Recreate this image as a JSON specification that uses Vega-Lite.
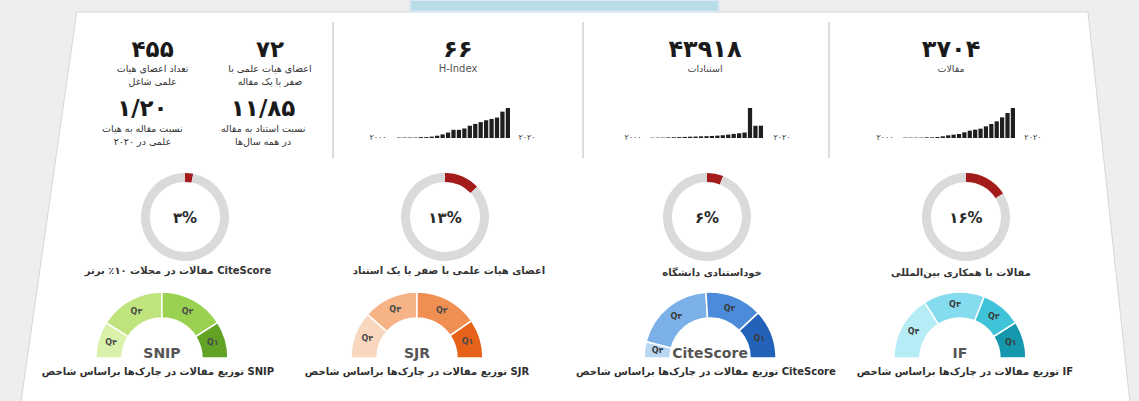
{
 "$schema": "https://vega.github.io/schema/vega-lite/v6.json",
 "width": 1139, "height": 401,
 "autosize": {"type": "none"},
 "padding": 0,
 "background": "#eeeeee",
 "config": {"view": {"stroke": null}, "axis": {"disable": true}, "legend": {"disable": true}, "text": {"font": "DejaVu Sans"}},
 "data": {"values": [{}]},
 "datasets": {
  "stats": [
   {"id": "faculty", "value": "۴۵۵", "label": ["تعداد اعضای هیات", "علمی شاغل"]},
   {"id": "low", "value": "۷۲", "label": ["اعضای هیات علمی با", "صفر یا یک مقاله"]},
   {"id": "ratio_pf", "value": "۱/۲۰", "label": ["نسبت مقاله به هیات", "علمی در ۲۰۲۰"]},
   {"id": "ratio_cp", "value": "۱۱/۸۵", "label": ["نسبت استناد به مقاله", "در همه سال‌ها"]},
   {"id": "hindex", "value": "۶۶", "label": "H-Index"},
   {"id": "cites", "value": "۴۳۹۱۸", "label": "استنادات"},
   {"id": "papers", "value": "۳۷۰۴", "label": "مقالات"}
  ],
  "hindex": [
   {"year": 2000, "value": 1}, {"year": 2001, "value": 1}, {"year": 2002, "value": 1}, {"year": 2003, "value": 1},
   {"year": 2004, "value": 2}, {"year": 2005, "value": 2}, {"year": 2006, "value": 3}, {"year": 2007, "value": 5},
   {"year": 2008, "value": 8}, {"year": 2009, "value": 12}, {"year": 2010, "value": 18}, {"year": 2011, "value": 18},
   {"year": 2012, "value": 21}, {"year": 2013, "value": 27}, {"year": 2014, "value": 31}, {"year": 2015, "value": 35},
   {"year": 2016, "value": 39}, {"year": 2017, "value": 42}, {"year": 2018, "value": 45}, {"year": 2019, "value": 58},
   {"year": 2020, "value": 66}
  ],
  "cites": [
   {"year": 2000, "value": 150}, {"year": 2001, "value": 180}, {"year": 2002, "value": 200}, {"year": 2003, "value": 300},
   {"year": 2004, "value": 350}, {"year": 2005, "value": 450}, {"year": 2006, "value": 520}, {"year": 2007, "value": 640},
   {"year": 2008, "value": 700}, {"year": 2009, "value": 820}, {"year": 2010, "value": 880}, {"year": 2011, "value": 1000},
   {"year": 2012, "value": 1150}, {"year": 2013, "value": 1350}, {"year": 2014, "value": 1650}, {"year": 2015, "value": 2000},
   {"year": 2016, "value": 2300}, {"year": 2017, "value": 2650}, {"year": 2018, "value": 14600}, {"year": 2019, "value": 5950},
   {"year": 2020, "value": 6000}
  ],
  "papers": [
   {"year": 2000, "value": 8}, {"year": 2001, "value": 8}, {"year": 2002, "value": 8}, {"year": 2003, "value": 8},
   {"year": 2004, "value": 15}, {"year": 2005, "value": 15}, {"year": 2006, "value": 22}, {"year": 2007, "value": 38},
   {"year": 2008, "value": 60}, {"year": 2009, "value": 75}, {"year": 2010, "value": 90}, {"year": 2011, "value": 128},
   {"year": 2012, "value": 165}, {"year": 2013, "value": 188}, {"year": 2014, "value": 210}, {"year": 2015, "value": 262},
   {"year": 2016, "value": 315}, {"year": 2017, "value": 375}, {"year": 2018, "value": 465}, {"year": 2019, "value": 562},
   {"year": 2020, "value": 675}
  ],
  "donuts": [
   {"id": "top10", "part": "value", "v": 3}, {"id": "top10", "part": "rest", "v": 97},
   {"id": "low", "part": "value", "v": 13}, {"id": "low", "part": "rest", "v": 87},
   {"id": "self", "part": "value", "v": 6}, {"id": "self", "part": "rest", "v": 94},
   {"id": "intl", "part": "value", "v": 16}, {"id": "intl", "part": "rest", "v": 84}
  ],
  "donutinfo": [
   {"id": "top10", "pct": "۳%", "label": "مقالات در مجلات ۱۰٪ برتر CiteScore"},
   {"id": "low", "pct": "۱۳%", "label": "اعضای هیات علمی با صفر یا یک استناد"},
   {"id": "self", "pct": "۶%", "label": "خوداستنادی دانشگاه"},
   {"id": "intl", "pct": "۱۶%", "label": "مقالات با همکاری بین‌المللی"}
  ],
  "gauges": [
   {"index": "SNIP", "q": "Q۴", "share": 18}, {"index": "SNIP", "q": "Q۳", "share": 32}, {"index": "SNIP", "q": "Q۲", "share": 32}, {"index": "SNIP", "q": "Q۱", "share": 18},
   {"index": "SJR", "q": "Q۴", "share": 23}, {"index": "SJR", "q": "Q۳", "share": 27}, {"index": "SJR", "q": "Q۲", "share": 31}, {"index": "SJR", "q": "Q۱", "share": 19},
   {"index": "CiteScore", "q": "Q۴", "share": 8}, {"index": "CiteScore", "q": "Q۳", "share": 40}, {"index": "CiteScore", "q": "Q۲", "share": 28}, {"index": "CiteScore", "q": "Q۱", "share": 24},
   {"index": "IF", "q": "Q۴", "share": 32}, {"index": "IF", "q": "Q۳", "share": 30}, {"index": "IF", "q": "Q۲", "share": 20}, {"index": "IF", "q": "Q۱", "share": 18}
  ],
  "gaugeinfo": [
   {"index": "SNIP", "label": "توزیع مقالات در چارک‌ها براساس شاخص SNIP"},
   {"index": "SJR", "label": "توزیع مقالات در چارک‌ها براساس شاخص SJR"},
   {"index": "CiteScore", "label": "توزیع مقالات در چارک‌ها براساس شاخص CiteScore"},
   {"index": "IF", "label": "توزیع مقالات در چارک‌ها براساس شاخص IF"}
  ]
 },
 "layer": [
  {"layer": [
   {"mark": {"type": "point", "shape": "M-0.874,-0.358L0.9,-0.358L0.975,0.34L-0.974,0.34Z", "size": 1299600, "filled": true, "color": "#ffffff", "stroke": "#d6d6d6", "strokeWidth": 1, "opacity": 1},
    "encoding": {"x": {"datum": 50.48, "type": "quantitative", "scale": {"domain": [0, 100], "nice": false, "zero": false}}, "y": {"datum": 53.87, "type": "quantitative", "scale": {"domain": [0, 100], "nice": false, "zero": false, "reverse": true}}}},
   {"mark": {"type": "rect", "fill": "#b8dde9", "stroke": "#dde8f1", "strokeWidth": 2},
    "encoding": {"x": {"datum": 36.0, "type": "quantitative", "scale": {"domain": [0, 100], "nice": false, "zero": false}}, "x2": {"datum": 63.13}, "y": {"datum": 0, "type": "quantitative", "scale": {"domain": [0, 100], "nice": false, "zero": false, "reverse": true}}, "y2": {"datum": 2.9}}},
   {"mark": {"type": "rule", "color": "#d2d2d2", "strokeWidth": 1.5},
    "encoding": {"x": {"datum": 29.24, "type": "quantitative", "scale": {"domain": [0, 100], "nice": false, "zero": false}}, "y": {"datum": 5.5, "type": "quantitative", "scale": {"domain": [0, 100], "nice": false, "zero": false, "reverse": true}}, "y2": {"datum": 39.4}}},
   {"mark": {"type": "rule", "color": "#d2d2d2", "strokeWidth": 1.5},
    "encoding": {"x": {"datum": 51.19, "type": "quantitative", "scale": {"domain": [0, 100], "nice": false, "zero": false}}, "y": {"datum": 5.5, "type": "quantitative", "scale": {"domain": [0, 100], "nice": false, "zero": false, "reverse": true}}, "y2": {"datum": 39.4}}},
   {"mark": {"type": "rule", "color": "#d2d2d2", "strokeWidth": 1.5},
    "encoding": {"x": {"datum": 72.78, "type": "quantitative", "scale": {"domain": [0, 100], "nice": false, "zero": false}}, "y": {"datum": 5.5, "type": "quantitative", "scale": {"domain": [0, 100], "nice": false, "zero": false, "reverse": true}}, "y2": {"datum": 39.4}}},

   {"data": {"name": "stats"}, "transform": [{"filter": "datum.id == 'faculty'"}],
    "encoding": {"x": {"datum": 13.4, "type": "quantitative", "scale": {"domain": [0, 100], "nice": false, "zero": false}}},
    "layer": [
     {"mark": {"type": "text", "fontSize": 23, "fontWeight": "bold", "color": "#1a1a1a"}, "encoding": {"y": {"datum": 12.5, "type": "quantitative", "scale": {"domain": [0, 100], "nice": false, "zero": false, "reverse": true}}, "text": {"field": "value"}}},
     {"mark": {"type": "text", "fontSize": 9.5, "baseline": "top", "lineHeight": 13, "color": "#2f2f2f", "dir": "rtl"}, "encoding": {"y": {"datum": 15.9, "type": "quantitative", "scale": {"domain": [0, 100], "nice": false, "zero": false, "reverse": true}}, "text": {"field": "label"}}}
    ]},
   {"data": {"name": "stats"}, "transform": [{"filter": "datum.id == 'low'"}],
    "encoding": {"x": {"datum": 23.7, "type": "quantitative", "scale": {"domain": [0, 100], "nice": false, "zero": false}}},
    "layer": [
     {"mark": {"type": "text", "fontSize": 23, "fontWeight": "bold", "color": "#1a1a1a"}, "encoding": {"y": {"datum": 12.5, "type": "quantitative", "scale": {"domain": [0, 100], "nice": false, "zero": false, "reverse": true}}, "text": {"field": "value"}}},
     {"mark": {"type": "text", "fontSize": 9.5, "baseline": "top", "lineHeight": 13, "color": "#2f2f2f", "dir": "rtl"}, "encoding": {"y": {"datum": 15.9, "type": "quantitative", "scale": {"domain": [0, 100], "nice": false, "zero": false, "reverse": true}}, "text": {"field": "label"}}}
    ]},
   {"data": {"name": "stats"}, "transform": [{"filter": "datum.id == 'ratio_pf'"}],
    "encoding": {"x": {"datum": 12.5, "type": "quantitative", "scale": {"domain": [0, 100], "nice": false, "zero": false}}},
    "layer": [
     {"mark": {"type": "text", "fontSize": 23, "fontWeight": "bold", "color": "#1a1a1a"}, "encoding": {"y": {"datum": 27.2, "type": "quantitative", "scale": {"domain": [0, 100], "nice": false, "zero": false, "reverse": true}}, "text": {"field": "value"}}},
     {"mark": {"type": "text", "fontSize": 9.5, "baseline": "top", "lineHeight": 13, "color": "#2f2f2f", "dir": "rtl"}, "encoding": {"y": {"datum": 31.0, "type": "quantitative", "scale": {"domain": [0, 100], "nice": false, "zero": false, "reverse": true}}, "text": {"field": "label"}}}
    ]},
   {"data": {"name": "stats"}, "transform": [{"filter": "datum.id == 'ratio_cp'"}],
    "encoding": {"x": {"datum": 23.1, "type": "quantitative", "scale": {"domain": [0, 100], "nice": false, "zero": false}}},
    "layer": [
     {"mark": {"type": "text", "fontSize": 23, "fontWeight": "bold", "color": "#1a1a1a"}, "encoding": {"y": {"datum": 27.2, "type": "quantitative", "scale": {"domain": [0, 100], "nice": false, "zero": false, "reverse": true}}, "text": {"field": "value"}}},
     {"mark": {"type": "text", "fontSize": 9.5, "baseline": "top", "lineHeight": 13, "color": "#2f2f2f", "dir": "rtl"}, "encoding": {"y": {"datum": 31.0, "type": "quantitative", "scale": {"domain": [0, 100], "nice": false, "zero": false, "reverse": true}}, "text": {"field": "label"}}}
    ]},
   {"data": {"name": "stats"}, "transform": [{"filter": "datum.id == 'hindex'"}],
    "encoding": {"x": {"datum": 40.21, "type": "quantitative", "scale": {"domain": [0, 100], "nice": false, "zero": false}}},
    "layer": [
     {"mark": {"type": "text", "fontSize": 24, "fontWeight": "bold", "color": "#1a1a1a"}, "encoding": {"y": {"datum": 12.5, "type": "quantitative", "scale": {"domain": [0, 100], "nice": false, "zero": false, "reverse": true}}, "text": {"field": "value"}}},
     {"mark": {"type": "text", "fontSize": 10, "baseline": "top", "color": "#555555"}, "encoding": {"y": {"datum": 15.9, "type": "quantitative", "scale": {"domain": [0, 100], "nice": false, "zero": false, "reverse": true}}, "text": {"field": "label"}}}
    ]},
   {"data": {"name": "stats"}, "transform": [{"filter": "datum.id == 'cites'"}],
    "encoding": {"x": {"datum": 61.9, "type": "quantitative", "scale": {"domain": [0, 100], "nice": false, "zero": false}}},
    "layer": [
     {"mark": {"type": "text", "fontSize": 24, "fontWeight": "bold", "color": "#1a1a1a"}, "encoding": {"y": {"datum": 12.5, "type": "quantitative", "scale": {"domain": [0, 100], "nice": false, "zero": false, "reverse": true}}, "text": {"field": "value"}}},
     {"mark": {"type": "text", "fontSize": 9.5, "baseline": "top", "color": "#444444", "dir": "rtl"}, "encoding": {"y": {"datum": 15.9, "type": "quantitative", "scale": {"domain": [0, 100], "nice": false, "zero": false, "reverse": true}}, "text": {"field": "label"}}}
    ]},
   {"data": {"name": "stats"}, "transform": [{"filter": "datum.id == 'papers'"}],
    "encoding": {"x": {"datum": 83.5, "type": "quantitative", "scale": {"domain": [0, 100], "nice": false, "zero": false}}},
    "layer": [
     {"mark": {"type": "text", "fontSize": 24, "fontWeight": "bold", "color": "#1a1a1a"}, "encoding": {"y": {"datum": 12.5, "type": "quantitative", "scale": {"domain": [0, 100], "nice": false, "zero": false, "reverse": true}}, "text": {"field": "value"}}},
     {"mark": {"type": "text", "fontSize": 9.5, "baseline": "top", "color": "#444444", "dir": "rtl"}, "encoding": {"y": {"datum": 15.9, "type": "quantitative", "scale": {"domain": [0, 100], "nice": false, "zero": false, "reverse": true}}, "text": {"field": "label"}}}
    ]},

   {"mark": {"type": "text", "fontSize": 8, "color": "#333333"}, "encoding": {"x": {"datum": 33.19, "type": "quantitative", "scale": {"domain": [0, 100], "nice": false, "zero": false}}, "y": {"datum": 34.41, "type": "quantitative", "scale": {"domain": [0, 100], "nice": false, "zero": false, "reverse": true}}, "text": {"value": "۲۰۰۰"}}},
   {"mark": {"type": "text", "fontSize": 8, "color": "#333333"}, "encoding": {"x": {"datum": 46.27, "type": "quantitative", "scale": {"domain": [0, 100], "nice": false, "zero": false}}, "y": {"datum": 34.41, "type": "quantitative", "scale": {"domain": [0, 100], "nice": false, "zero": false, "reverse": true}}, "text": {"value": "۲۰۲۰"}}},
   {"mark": {"type": "text", "fontSize": 8, "color": "#333333"}, "encoding": {"x": {"datum": 55.58, "type": "quantitative", "scale": {"domain": [0, 100], "nice": false, "zero": false}}, "y": {"datum": 34.41, "type": "quantitative", "scale": {"domain": [0, 100], "nice": false, "zero": false, "reverse": true}}, "text": {"value": "۲۰۰۰"}}},
   {"mark": {"type": "text", "fontSize": 8, "color": "#333333"}, "encoding": {"x": {"datum": 68.66, "type": "quantitative", "scale": {"domain": [0, 100], "nice": false, "zero": false}}, "y": {"datum": 34.41, "type": "quantitative", "scale": {"domain": [0, 100], "nice": false, "zero": false, "reverse": true}}, "text": {"value": "۲۰۲۰"}}},
   {"mark": {"type": "text", "fontSize": 8, "color": "#333333"}, "encoding": {"x": {"datum": 77.7, "type": "quantitative", "scale": {"domain": [0, 100], "nice": false, "zero": false}}, "y": {"datum": 34.41, "type": "quantitative", "scale": {"domain": [0, 100], "nice": false, "zero": false, "reverse": true}}, "text": {"value": "۲۰۰۰"}}},
   {"mark": {"type": "text", "fontSize": 8, "color": "#333333"}, "encoding": {"x": {"datum": 90.69, "type": "quantitative", "scale": {"domain": [0, 100], "nice": false, "zero": false}}, "y": {"datum": 34.41, "type": "quantitative", "scale": {"domain": [0, 100], "nice": false, "zero": false, "reverse": true}}, "text": {"value": "۲۰۲۰"}}}
  ]},

  {"data": {"name": "hindex"}, "mark": {"type": "bar", "color": "#1e1e1e"},
   "encoding": {"x": {"field": "year", "type": "ordinal", "scale": {"range": [397, 510], "paddingInner": 0.22, "paddingOuter": 0}}, "y": {"field": "value", "type": "quantitative", "scale": {"range": [138, 108], "nice": false}}}},
  {"data": {"name": "cites"}, "mark": {"type": "bar", "color": "#1e1e1e"},
   "encoding": {"x": {"field": "year", "type": "ordinal", "scale": {"range": [650, 763], "paddingInner": 0.22, "paddingOuter": 0}}, "y": {"field": "value", "type": "quantitative", "scale": {"range": [138, 108], "nice": false}}}},
  {"data": {"name": "papers"}, "mark": {"type": "bar", "color": "#1e1e1e"},
   "encoding": {"x": {"field": "year", "type": "ordinal", "scale": {"range": [903, 1015], "paddingInner": 0.22, "paddingOuter": 0}}, "y": {"field": "value", "type": "quantitative", "scale": {"range": [138, 108], "nice": false}}}},

  {"layer": [
   {"data": {"name": "donuts"}, "transform": [{"filter": "datum.id == 'top10'"}], "mark": {"type": "arc", "outerRadius": 44, "innerRadius": 35},
    "encoding": {"x": {"datum": 16.24, "type": "quantitative", "scale": {"domain": [0, 100], "nice": false, "zero": false}}, "y": {"datum": 54.11, "type": "quantitative", "scale": {"domain": [0, 100], "nice": false, "zero": false, "reverse": true}}, "theta": {"field": "v", "type": "quantitative", "stack": true, "scale": {"domain": [0, 100]}}, "color": {"field": "part", "type": "nominal", "scale": {"domain": ["value", "rest"], "range": ["#a31b1b", "#dadada"]}}, "order": {"field": "part", "sort": "descending"}}},
   {"data": {"name": "donuts"}, "transform": [{"filter": "datum.id == 'low'"}], "mark": {"type": "arc", "outerRadius": 44, "innerRadius": 35},
    "encoding": {"x": {"datum": 39.07, "type": "quantitative", "scale": {"domain": [0, 100], "nice": false, "zero": false}}, "y": {"datum": 54.11, "type": "quantitative", "scale": {"domain": [0, 100], "nice": false, "zero": false, "reverse": true}}, "theta": {"field": "v", "type": "quantitative", "stack": true, "scale": {"domain": [0, 100]}}, "color": {"field": "part", "type": "nominal", "scale": {"domain": ["value", "rest"], "range": ["#a31b1b", "#dadada"]}}, "order": {"field": "part", "sort": "descending"}}},
   {"data": {"name": "donuts"}, "transform": [{"filter": "datum.id == 'self'"}], "mark": {"type": "arc", "outerRadius": 44, "innerRadius": 35},
    "encoding": {"x": {"datum": 62.07, "type": "quantitative", "scale": {"domain": [0, 100], "nice": false, "zero": false}}, "y": {"datum": 54.11, "type": "quantitative", "scale": {"domain": [0, 100], "nice": false, "zero": false, "reverse": true}}, "theta": {"field": "v", "type": "quantitative", "stack": true, "scale": {"domain": [0, 100]}}, "color": {"field": "part", "type": "nominal", "scale": {"domain": ["value", "rest"], "range": ["#a31b1b", "#dadada"]}}, "order": {"field": "part", "sort": "descending"}}},
   {"data": {"name": "donuts"}, "transform": [{"filter": "datum.id == 'intl'"}], "mark": {"type": "arc", "outerRadius": 44, "innerRadius": 35},
    "encoding": {"x": {"datum": 84.81, "type": "quantitative", "scale": {"domain": [0, 100], "nice": false, "zero": false}}, "y": {"datum": 54.11, "type": "quantitative", "scale": {"domain": [0, 100], "nice": false, "zero": false, "reverse": true}}, "theta": {"field": "v", "type": "quantitative", "stack": true, "scale": {"domain": [0, 100]}}, "color": {"field": "part", "type": "nominal", "scale": {"domain": ["value", "rest"], "range": ["#a31b1b", "#dadada"]}}, "order": {"field": "part", "sort": "descending"}}},

   {"data": {"name": "donutinfo"}, "transform": [{"filter": "datum.id == 'top10'"}], "layer": [
    {"mark": {"type": "text", "fontSize": 15, "fontWeight": "bold", "color": "#2a2a2a"}, "encoding": {"x": {"datum": 16.24, "type": "quantitative", "scale": {"domain": [0, 100], "nice": false, "zero": false}}, "y": {"datum": 54.4, "type": "quantitative", "scale": {"domain": [0, 100], "nice": false, "zero": false, "reverse": true}}, "text": {"field": "pct"}}},
    {"mark": {"type": "text", "fontSize": 10, "fontWeight": "bold", "color": "#333333", "dir": "rtl"}, "encoding": {"x": {"datum": 15.63, "type": "quantitative", "scale": {"domain": [0, 100], "nice": false, "zero": false}}, "y": {"datum": 67.58, "type": "quantitative", "scale": {"domain": [0, 100], "nice": false, "zero": false, "reverse": true}}, "text": {"field": "label"}}}
   ]},
   {"data": {"name": "donutinfo"}, "transform": [{"filter": "datum.id == 'low'"}], "layer": [
    {"mark": {"type": "text", "fontSize": 15, "fontWeight": "bold", "color": "#2a2a2a"}, "encoding": {"x": {"datum": 39.07, "type": "quantitative", "scale": {"domain": [0, 100], "nice": false, "zero": false}}, "y": {"datum": 54.4, "type": "quantitative", "scale": {"domain": [0, 100], "nice": false, "zero": false, "reverse": true}}, "text": {"field": "pct"}}},
    {"mark": {"type": "text", "fontSize": 10, "fontWeight": "bold", "color": "#333333", "dir": "rtl"}, "encoding": {"x": {"datum": 39.42, "type": "quantitative", "scale": {"domain": [0, 100], "nice": false, "zero": false}}, "y": {"datum": 67.58, "type": "quantitative", "scale": {"domain": [0, 100], "nice": false, "zero": false, "reverse": true}}, "text": {"field": "label"}}}
   ]},
   {"data": {"name": "donutinfo"}, "transform": [{"filter": "datum.id == 'self'"}], "layer": [
    {"mark": {"type": "text", "fontSize": 15, "fontWeight": "bold", "color": "#2a2a2a"}, "encoding": {"x": {"datum": 62.07, "type": "quantitative", "scale": {"domain": [0, 100], "nice": false, "zero": false}}, "y": {"datum": 54.4, "type": "quantitative", "scale": {"domain": [0, 100], "nice": false, "zero": false, "reverse": true}}, "text": {"field": "pct"}}},
    {"mark": {"type": "text", "fontSize": 10, "fontWeight": "bold", "color": "#333333", "dir": "rtl"}, "encoding": {"x": {"datum": 62.51, "type": "quantitative", "scale": {"domain": [0, 100], "nice": false, "zero": false}}, "y": {"datum": 68.1, "type": "quantitative", "scale": {"domain": [0, 100], "nice": false, "zero": false, "reverse": true}}, "text": {"field": "label"}}}
   ]},
   {"data": {"name": "donutinfo"}, "transform": [{"filter": "datum.id == 'intl'"}], "layer": [
    {"mark": {"type": "text", "fontSize": 15, "fontWeight": "bold", "color": "#2a2a2a"}, "encoding": {"x": {"datum": 84.81, "type": "quantitative", "scale": {"domain": [0, 100], "nice": false, "zero": false}}, "y": {"datum": 54.4, "type": "quantitative", "scale": {"domain": [0, 100], "nice": false, "zero": false, "reverse": true}}, "text": {"field": "pct"}}},
    {"mark": {"type": "text", "fontSize": 10, "fontWeight": "bold", "color": "#333333", "dir": "rtl"}, "encoding": {"x": {"datum": 84.37, "type": "quantitative", "scale": {"domain": [0, 100], "nice": false, "zero": false}}, "y": {"datum": 68.1, "type": "quantitative", "scale": {"domain": [0, 100], "nice": false, "zero": false, "reverse": true}}, "text": {"field": "label"}}}
   ]}
  ]},

  {"layer": [
   {"data": {"name": "gauges"}, "transform": [{"filter": "datum.index == 'SNIP'"}],
    "encoding": {"x": {"datum": 14.22, "type": "quantitative", "scale": {"domain": [0, 100], "nice": false, "zero": false}}, "y": {"datum": 89.28, "type": "quantitative", "scale": {"domain": [0, 100], "nice": false, "zero": false, "reverse": true}}, "theta": {"field": "share", "type": "quantitative", "stack": true, "scale": {"domain": [0, 100], "range": [-1.5708, 1.5708]}}, "order": {"field": "q", "sort": "descending"}},
    "layer": [
     {"mark": {"type": "arc", "outerRadius": 66, "innerRadius": 40, "stroke": "#ffffff", "strokeWidth": 1.5}, "encoding": {"color": {"field": "q", "type": "nominal", "scale": {"domain": ["Q۱", "Q۲", "Q۳", "Q۴"], "range": ["#62a325", "#9bd150", "#bfe47d", "#daf1ab"]}}}},
     {"mark": {"type": "text", "radius": 53, "fontSize": 8, "fontWeight": "bold", "color": "#4a4a4a"}, "encoding": {"text": {"field": "q"}}}
    ]},
   {"data": {"name": "gauges"}, "transform": [{"filter": "datum.index == 'SJR'"}],
    "encoding": {"x": {"datum": 36.61, "type": "quantitative", "scale": {"domain": [0, 100], "nice": false, "zero": false}}, "y": {"datum": 89.28, "type": "quantitative", "scale": {"domain": [0, 100], "nice": false, "zero": false, "reverse": true}}, "theta": {"field": "share", "type": "quantitative", "stack": true, "scale": {"domain": [0, 100], "range": [-1.5708, 1.5708]}}, "order": {"field": "q", "sort": "descending"}},
    "layer": [
     {"mark": {"type": "arc", "outerRadius": 66, "innerRadius": 40, "stroke": "#ffffff", "strokeWidth": 1.5}, "encoding": {"color": {"field": "q", "type": "nominal", "scale": {"domain": ["Q۱", "Q۲", "Q۳", "Q۴"], "range": ["#e6621a", "#ef8f52", "#f5b386", "#f9d7be"]}}}},
     {"mark": {"type": "text", "radius": 53, "fontSize": 8, "fontWeight": "bold", "color": "#4a4a4a"}, "encoding": {"text": {"field": "q"}}}
    ]},
   {"data": {"name": "gauges"}, "transform": [{"filter": "datum.index == 'CiteScore'"}],
    "encoding": {"x": {"datum": 62.34, "type": "quantitative", "scale": {"domain": [0, 100], "nice": false, "zero": false}}, "y": {"datum": 89.28, "type": "quantitative", "scale": {"domain": [0, 100], "nice": false, "zero": false, "reverse": true}}, "theta": {"field": "share", "type": "quantitative", "stack": true, "scale": {"domain": [0, 100], "range": [-1.5708, 1.5708]}}, "order": {"field": "q", "sort": "descending"}},
    "layer": [
     {"mark": {"type": "arc", "outerRadius": 66, "innerRadius": 40, "stroke": "#ffffff", "strokeWidth": 1.5}, "encoding": {"color": {"field": "q", "type": "nominal", "scale": {"domain": ["Q۱", "Q۲", "Q۳", "Q۴"], "range": ["#2262b9", "#4b8bd9", "#7cb0e9", "#b9d6f3"]}}}},
     {"mark": {"type": "text", "radius": 53, "fontSize": 8, "fontWeight": "bold", "color": "#3a3a3a"}, "encoding": {"text": {"field": "q"}}}
    ]},
   {"data": {"name": "gauges"}, "transform": [{"filter": "datum.index == 'IF'"}],
    "encoding": {"x": {"datum": 84.28, "type": "quantitative", "scale": {"domain": [0, 100], "nice": false, "zero": false}}, "y": {"datum": 89.28, "type": "quantitative", "scale": {"domain": [0, 100], "nice": false, "zero": false, "reverse": true}}, "theta": {"field": "share", "type": "quantitative", "stack": true, "scale": {"domain": [0, 100], "range": [-1.5708, 1.5708]}}, "order": {"field": "q", "sort": "descending"}},
    "layer": [
     {"mark": {"type": "arc", "outerRadius": 66, "innerRadius": 40, "stroke": "#ffffff", "strokeWidth": 1.5}, "encoding": {"color": {"field": "q", "type": "nominal", "scale": {"domain": ["Q۱", "Q۲", "Q۳", "Q۴"], "range": ["#1598ae", "#40c2d9", "#85dcee", "#b6ecf6"]}}}},
     {"mark": {"type": "text", "radius": 53, "fontSize": 8, "fontWeight": "bold", "color": "#3a3a3a"}, "encoding": {"text": {"field": "q"}}}
    ]},

   {"data": {"name": "gaugeinfo"}, "transform": [{"filter": "datum.index == 'SNIP'"}], "layer": [
    {"mark": {"type": "text", "fontSize": 14, "fontWeight": "bold", "color": "#555555", "baseline": "alphabetic"}, "encoding": {"x": {"datum": 14.22, "type": "quantitative", "scale": {"domain": [0, 100], "nice": false, "zero": false}}, "y": {"datum": 89.3, "type": "quantitative", "scale": {"domain": [0, 100], "nice": false, "zero": false, "reverse": true}}, "text": {"field": "index"}}},
    {"mark": {"type": "text", "fontSize": 10, "fontWeight": "bold", "color": "#2e2e2e", "dir": "rtl"}, "encoding": {"x": {"datum": 13.87, "type": "quantitative", "scale": {"domain": [0, 100], "nice": false, "zero": false}}, "y": {"datum": 92.8, "type": "quantitative", "scale": {"domain": [0, 100], "nice": false, "zero": false, "reverse": true}}, "text": {"field": "label"}}}
   ]},
   {"data": {"name": "gaugeinfo"}, "transform": [{"filter": "datum.index == 'SJR'"}], "layer": [
    {"mark": {"type": "text", "fontSize": 14, "fontWeight": "bold", "color": "#555555", "baseline": "alphabetic"}, "encoding": {"x": {"datum": 36.61, "type": "quantitative", "scale": {"domain": [0, 100], "nice": false, "zero": false}}, "y": {"datum": 89.3, "type": "quantitative", "scale": {"domain": [0, 100], "nice": false, "zero": false, "reverse": true}}, "text": {"field": "index"}}},
    {"mark": {"type": "text", "fontSize": 10, "fontWeight": "bold", "color": "#2e2e2e", "dir": "rtl"}, "encoding": {"x": {"datum": 36.61, "type": "quantitative", "scale": {"domain": [0, 100], "nice": false, "zero": false}}, "y": {"datum": 92.8, "type": "quantitative", "scale": {"domain": [0, 100], "nice": false, "zero": false, "reverse": true}}, "text": {"field": "label"}}}
   ]},
   {"data": {"name": "gaugeinfo"}, "transform": [{"filter": "datum.index == 'CiteScore'"}], "layer": [
    {"mark": {"type": "text", "fontSize": 14, "fontWeight": "bold", "color": "#555555", "baseline": "alphabetic"}, "encoding": {"x": {"datum": 62.34, "type": "quantitative", "scale": {"domain": [0, 100], "nice": false, "zero": false}}, "y": {"datum": 89.3, "type": "quantitative", "scale": {"domain": [0, 100], "nice": false, "zero": false, "reverse": true}}, "text": {"field": "index"}}},
    {"mark": {"type": "text", "fontSize": 10, "fontWeight": "bold", "color": "#2e2e2e", "dir": "rtl"}, "encoding": {"x": {"datum": 61.98, "type": "quantitative", "scale": {"domain": [0, 100], "nice": false, "zero": false}}, "y": {"datum": 92.8, "type": "quantitative", "scale": {"domain": [0, 100], "nice": false, "zero": false, "reverse": true}}, "text": {"field": "label"}}}
   ]},
   {"data": {"name": "gaugeinfo"}, "transform": [{"filter": "datum.index == 'IF'"}], "layer": [
    {"mark": {"type": "text", "fontSize": 14, "fontWeight": "bold", "color": "#555555", "baseline": "alphabetic"}, "encoding": {"x": {"datum": 84.28, "type": "quantitative", "scale": {"domain": [0, 100], "nice": false, "zero": false}}, "y": {"datum": 89.3, "type": "quantitative", "scale": {"domain": [0, 100], "nice": false, "zero": false, "reverse": true}}, "text": {"field": "index"}}},
    {"mark": {"type": "text", "fontSize": 10, "fontWeight": "bold", "color": "#2e2e2e", "dir": "rtl"}, "encoding": {"x": {"datum": 84.72, "type": "quantitative", "scale": {"domain": [0, 100], "nice": false, "zero": false}}, "y": {"datum": 92.8, "type": "quantitative", "scale": {"domain": [0, 100], "nice": false, "zero": false, "reverse": true}}, "text": {"field": "label"}}}
   ]}
  ],
  "resolve": {"scale": {"color": "independent"}}}
 ],
 "resolve": {"scale": {"x": "independent", "y": "independent", "theta": "independent", "color": "independent"}}
}
